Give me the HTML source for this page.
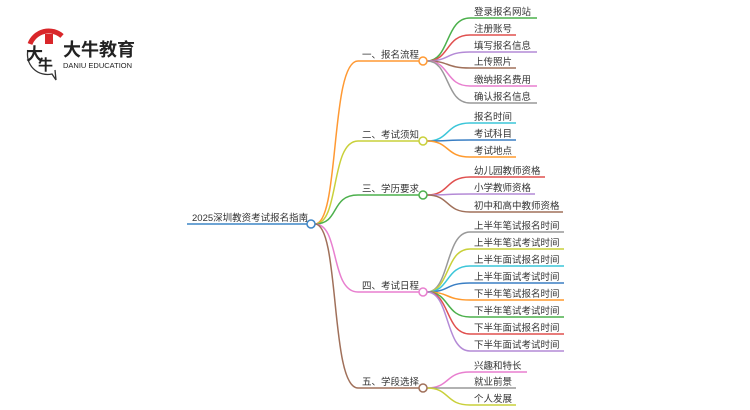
<!DOCTYPE html>
<html><head><meta charset="utf-8"><style>
html,body{margin:0;padding:0;background:#fff;width:750px;height:410px;overflow:hidden}
svg{display:block}
text{font-family:"Liberation Sans","Noto Sans CJK SC",sans-serif;font-size:9.5px;fill:#333}
</style></head><body>
<svg width="750" height="410" viewBox="0 0 750 410" xmlns="http://www.w3.org/2000/svg" fill="none" stroke-width="1.5">
<!-- logo -->
<path d="M30,44 A20,20 0 0 1 62,36" stroke="#d9262a" stroke-width="5"/>
<path d="M28,50 A20,20 0 0 0 52,74 L56,80 L55,70" stroke="#333" stroke-width="1.3"/>
<text x="26" y="60" style="font-size:17px;fill:#222;font-weight:bold">大</text>
<text x="38" y="70" style="font-size:15px;fill:#222;font-weight:bold">牛</text>
<rect x="45" y="34" width="8" height="10" fill="#d9262a" stroke="none"/>
<text x="63" y="56" style="font-size:18px;font-weight:bold;fill:#222">大牛教育</text>
<text x="63" y="68" style="font-size:7.5px;fill:#222">DANIU EDUCATION</text>

<!-- root -->
<line x1="187" y1="224" x2="307" y2="224" stroke="#3d85c6"/>
<text x="192" y="221">2025深圳教资考试报名指南</text>

<!-- main branches -->
<path d="M315,224 C340,224 330,61 358,61 L419,61" stroke="#ff9933"/>
<path d="M315,224 C340,224 330,141 358,141 L419,141" stroke="#c9d03a"/>
<path d="M315,224 C340,224 330,195 358,195 L419,195" stroke="#4cb04c"/>
<path d="M315,224 C340,224 330,292 358,292 L419,292" stroke="#e87fcf"/>
<path d="M315,224 C340,224 330,388 358,388 L419,388" stroke="#a0705a"/>
<circle cx="311" cy="224" r="4" fill="#fff" stroke="#3d85c6"/>
<text x="362" y="58">一、报名流程</text>
<text x="362" y="138">二、考试须知</text>
<text x="362" y="192">三、学历要求</text>
<text x="362" y="289">四、考试日程</text>
<text x="362" y="385">五、学段选择</text>

<!-- group1 -->
<path d="M427,61 C450,61 445,18 470,18 L537,18" stroke="#4cb04c"/>
<path d="M427,61 C450,61 445,35 470,35 L516,35" stroke="#e0504f"/>
<path d="M427,61 C450,61 445,52 470,52 L537,52" stroke="#b48ad6"/>
<path d="M427,61 C450,61 445,68 470,68 L516,68" stroke="#a0705a"/>
<path d="M427,61 C450,61 445,86 470,86 L537,86" stroke="#e87fcf"/>
<path d="M427,61 C450,61 445,103 470,103 L537,103" stroke="#999"/>
<circle cx="423" cy="61" r="4" fill="#fff" stroke="#ff9933"/>
<text x="474" y="15">登录报名网站</text>
<text x="474" y="32">注册账号</text>
<text x="474" y="49">填写报名信息</text>
<text x="474" y="65">上传照片</text>
<text x="474" y="83">缴纳报名费用</text>
<text x="474" y="100">确认报名信息</text>

<!-- group2 -->
<path d="M427,141 C450,141 445,123 470,123 L516,123" stroke="#3cc6d9"/>
<path d="M427,141 C450,141 445,140 470,140 L516,140" stroke="#3a7fc4"/>
<path d="M427,141 C450,141 445,157 470,157 L516,157" stroke="#ff9a2e"/>
<circle cx="423" cy="141" r="4" fill="#fff" stroke="#c9d03a"/>
<text x="474" y="120">报名时间</text>
<text x="474" y="137">考试科目</text>
<text x="474" y="154">考试地点</text>

<!-- group3 -->
<path d="M427,195 C450,195 445,177 470,177 L545,177" stroke="#e0504f"/>
<path d="M427,195 C450,195 445,194 470,194 L535,194" stroke="#b48ad6"/>
<path d="M427,195 C450,195 445,212 470,212 L563,212" stroke="#a0705a"/>
<circle cx="423" cy="195" r="4" fill="#fff" stroke="#4cb04c"/>
<text x="474" y="174">幼儿园教师资格</text>
<text x="474" y="191">小学教师资格</text>
<text x="474" y="209">初中和高中教师资格</text>

<!-- group4 -->
<path d="M427,292 C450,292 445,232 470,232 L564,232" stroke="#999"/>
<path d="M427,292 C450,292 445,249 470,249 L564,249" stroke="#c9d03a"/>
<path d="M427,292 C450,292 445,266 470,266 L564,266" stroke="#3cc6d9"/>
<path d="M427,292 C450,292 445,283 470,283 L564,283" stroke="#3a7fc4"/>
<path d="M427,292 C450,292 445,300 470,300 L564,300" stroke="#ff9a2e"/>
<path d="M427,292 C450,292 445,317 470,317 L564,317" stroke="#4cb04c"/>
<path d="M427,292 C450,292 445,334 470,334 L564,334" stroke="#e0504f"/>
<path d="M427,292 C450,292 445,351 470,351 L564,351" stroke="#b48ad6"/>
<circle cx="423" cy="292" r="4" fill="#fff" stroke="#e87fcf"/>
<text x="474" y="229">上半年笔试报名时间</text>
<text x="474" y="246">上半年笔试考试时间</text>
<text x="474" y="263">上半年面试报名时间</text>
<text x="474" y="280">上半年面试考试时间</text>
<text x="474" y="297">下半年笔试报名时间</text>
<text x="474" y="314">下半年笔试考试时间</text>
<text x="474" y="331">下半年面试报名时间</text>
<text x="474" y="348">下半年面试考试时间</text>

<!-- group5 -->
<path d="M427,388 C450,388 445,372 470,372 L527,372" stroke="#e87fcf"/>
<path d="M427,388 C450,388 445,388 470,388 L516,388" stroke="#999"/>
<path d="M427,388 C450,388 445,405 470,405 L516,405" stroke="#c9d03a"/>
<circle cx="423" cy="388" r="4" fill="#fff" stroke="#a0705a"/>
<text x="474" y="369">兴趣和特长</text>
<text x="474" y="385">就业前景</text>
<text x="474" y="402">个人发展</text>
</svg>
</body></html>
